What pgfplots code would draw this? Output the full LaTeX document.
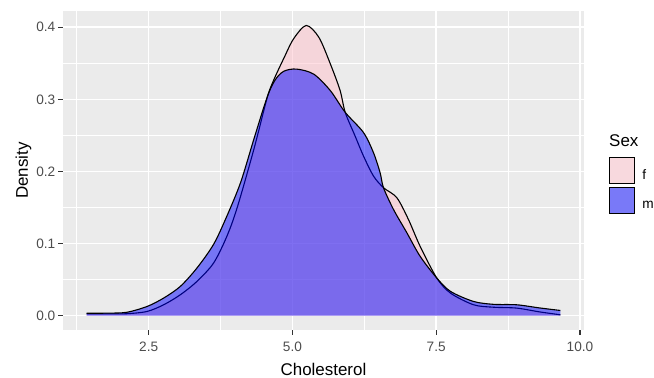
\documentclass[border=0pt]{standalone}
\usepackage{pgfplots}
\pgfplotsset{compat=1.18}
\usepackage{fontspec}
\setmainfont{Liberation Sans}
\definecolor{panel}{RGB}{235,235,235}
\definecolor{ggpink}{RGB}{255,192,203}
\definecolor{ggblue}{RGB}{0,0,255}
\definecolor{fkey}{RGB}{248,217,222}
\definecolor{mkey}{RGB}{121,121,248}
\definecolor{tickgray}{RGB}{77,77,77}
\definecolor{gray20}{RGB}{51,51,51}
\pgfplotstableread{
x y
1.42 0.0022
1.8 0.0022
2.12 0.0025
2.47 0.0056
2.76 0.0149
3.05 0.0288
3.34 0.0474
3.63 0.073
3.86 0.110
4.04 0.150
4.33 0.231
4.56 0.302
4.67 0.326
4.85 0.357
5.02 0.384
5.24 0.4025
5.46 0.386
5.66 0.349
5.83 0.312
5.917 0.282
6.09 0.249
6.235 0.2214
6.409 0.1936
6.583 0.1774
6.815 0.1635
7.017 0.1333
7.22 0.0961
7.51 0.052
7.75 0.031
8.15 0.0149
8.5 0.0115
8.9 0.0103
9.3 0.005
9.66 0.001
}\fdata
\pgfplotstableread{
x y
1.42 0.0032
1.8 0.0033
2.12 0.0045
2.47 0.0125
2.76 0.0242
3.05 0.0404
3.34 0.066
3.63 0.099
3.86 0.138
4.10 0.185
4.33 0.245
4.56 0.303
4.70 0.327
4.85 0.339
5.07 0.342
5.37 0.335
5.66 0.312
5.917 0.282
6.235 0.254
6.409 0.226
6.525 0.198
6.583 0.1774
6.757 0.1472
6.99 0.1148
7.22 0.0822
7.51 0.052
7.75 0.0334
8.15 0.0195
8.5 0.0155
8.9 0.0149
9.3 0.0105
9.66 0.007
}\mdata
\begin{document}
\begin{tikzpicture}
\begin{axis}[
  at={(0,0)}, anchor=south west,
  scale only axis, width=521bp, height=319bp,
  xmin=1.01, xmax=10.07, ymin=-0.0201, ymax=0.4226,
  axis background/.style={fill=panel},
  axis line style={draw=none},
  xtick={2.5,5,7.5,10}, ytick={0,0.1,0.2,0.3,0.4},
  minor xtick={1.25,3.75,6.25,8.75}, minor ytick={0.05,0.15,0.25,0.35},
  grid=both,
  major grid style={white, line width=1.6bp},
  minor grid style={white, line width=0.8bp},
  tick align=outside,
  major tick length=4.5bp, minor tick length=0pt,
  tick style={color=gray20, line width=1.1bp},
  xtick pos=lower, ytick pos=left,
  /pgf/number format/assume math mode=true,
  ticklabel style={font=\fontsize{13.7}{16}\selectfont, text=tickgray, inner sep=0pt},
  xticklabel={\pgfmathprintnumber[fixed,fixed zerofill,precision=1]{\tick}},
  yticklabel={\pgfmathprintnumber[fixed,fixed zerofill,precision=1]{\tick}},
  xticklabel style={anchor=north, yshift=-7bp},
  yticklabel style={anchor=east, xshift=-3bp},
  scaled ticks=false,
  xlabel={Cholesterol}, ylabel={Density},
  label style={font=\fontsize{17}{20}\selectfont},
  xlabel style={at={(axis description cs:0.5,-0.1411)}, anchor=base, inner sep=0pt},
  ylabel style={at={(axis description cs:-0.0672,0.5)}, anchor=base, inner sep=0pt},
  legend style={at={(axis description cs:1.048,0.5423)}, anchor=north west,
    draw=none, fill=none, inner sep=0pt, row sep=2.5bp,
    font=\fontsize{13.7}{16}\selectfont, nodes={inner sep=0pt},
    /tikz/every odd column/.append style={column sep=7bp}},
  legend cell align=left,
]
\addlegendimage{legend image code/.code={\draw[fill=fkey, draw=black, line width=1.1bp] (0bp,-8bp) rectangle (25bp,18bp);}}
\addlegendentry{f}
\addlegendimage{legend image code/.code={\draw[fill=mkey, draw=black, line width=1.1bp] (0bp,-8bp) rectangle (25bp,18bp);}}
\addlegendentry{m}

\addplot[draw=none, fill=ggpink, fill opacity=0.5, smooth, tension=0.5, forget plot] table {\fdata} \closedcycle;
\addplot[black, line width=1.1bp, smooth, tension=0.5, forget plot] table {\fdata};
\addplot[draw=none, fill=ggblue, fill opacity=0.5, smooth, tension=0.5, forget plot] table {\mdata} \closedcycle;
\addplot[black, line width=1.1bp, smooth, tension=0.5, forget plot] table {\mdata};
\end{axis}
\node[anchor=base west, font=\fontsize{17}{20}\selectfont, inner sep=0pt] at (546bp,183.3bp) {Sex};
\pgfresetboundingbox
\path[use as bounding box] (-63bp,-48bp) rectangle (591bp,330bp);
\end{tikzpicture}
\end{document}
